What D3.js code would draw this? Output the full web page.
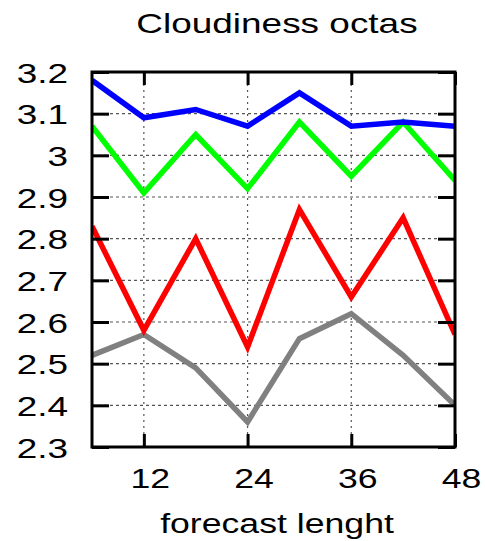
<!DOCTYPE html>
<html>
<head>
<meta charset="utf-8">
<script src="https://cdn.jsdelivr.net/npm/d3@7"></script>
<style>
  body { margin: 0; background: #fff; }
  text { font-family: "Liberation Sans", Arial, sans-serif; fill: #000; }
</style>
</head>
<body>
<svg id="chart" width="485" height="541"></svg>
<script>
// forecast lead times (hours)
const leadTimes = [6, 12, 18, 24, 30, 36, 42, 48]
const blueSeries = [3.18, 3.09, 3.11, 3.07, 3.15, 3.07, 3.08, 3.07]
const greenSeries = [3.07, 2.91, 3.05, 2.92, 3.08, 2.95, 3.08, 2.94]
const redSeries = [2.83, 2.58, 2.80, 2.54, 2.87, 2.66, 2.85, 2.57]
const graySeries = [2.52, 2.57, 2.49, 2.36, 2.56, 2.62, 2.52, 2.40]
const xTicks = [12, 24, 36, 48]
const yTicks = [2.3, 2.4, 2.5, 2.6, 2.7, 2.8, 2.9, 3, 3.1, 3.2]

const series = [
  { values: graySeries, color: '#808080' },
  { values: redSeries, color: '#ff0000' },
  { values: greenSeries, color: '#00ff00' },
  { values: blueSeries, color: '#0000ff' }
]

const svg = d3.select('#chart')
const plotLeft = 92, plotRight = 455, plotTop = 72, plotBottom = 447
// the original's text is stretched sideways
const stretch = 1.32

const xScale = d3.scaleLinear().domain([6, 48]).range([plotLeft, plotRight])
const yScale = d3.scaleLinear().domain([2.3, 3.2]).range([plotBottom, plotTop])

// grid
const grid = svg.append('g')
grid.selectAll('.hgrid')
  .data(yTicks.filter(d => d > 2.3 && d < 3.2))
  .enter().append('line')
  .attr('x1', plotLeft).attr('x2', plotRight)
  .attr('y1', d => yScale(d)).attr('y2', d => yScale(d))
  .attr('stroke', '#555').attr('stroke-width', 1.2)
  .attr('stroke-dasharray', '3,3')
grid.selectAll('.vgrid')
  .data(xTicks.filter(d => d < 48))
  .enter().append('line')
  .attr('x1', d => xScale(d)).attr('x2', d => xScale(d))
  .attr('y1', plotTop).attr('y2', plotBottom)
  .attr('stroke', '#555').attr('stroke-width', 1.2)
  .attr('stroke-dasharray', '2,4')

// lines
const line = d3.line()
  .x((d, i) => xScale(leadTimes[i]))
  .y(d => yScale(d))

const clip = svg.append('clipPath').attr('id', 'plotclip')
clip.append('rect').attr('x', plotLeft).attr('y', plotTop)
  .attr('width', plotRight - plotLeft).attr('height', plotBottom - plotTop)

svg.append('g').attr('clip-path', 'url(#plotclip)')
  .selectAll('path')
  .data(series)
  .enter().append('path')
  .attr('d', d => line(d.values))
  .attr('fill', 'none')
  .attr('stroke', d => d.color)
  .attr('stroke-width', 5.5)
  .attr('stroke-linejoin', 'miter')

// axes with inward ticks
const yTickLen = 17, xTickLen = 13
svg.append('g').attr('transform', `translate(${plotLeft},0)`)
  .call(d3.axisLeft(yScale).tickValues(yTicks).tickSize(-yTickLen).tickFormat(d3.format('')))
  .call(g => g.select('.domain').remove())
  .call(g => g.selectAll('.tick line').attr('stroke-width', 3))
  .call(g => g.selectAll('.tick text').attr('font-size', 28)
    .attr('x', -24 / stretch).attr('dy', '0.36em')
    .attr('transform', `scale(${stretch},1)`))

svg.append('g').attr('transform', `translate(${plotRight},0)`)
  .call(d3.axisRight(yScale).tickValues(yTicks).tickSize(-yTickLen).tickFormat(''))
  .call(g => g.select('.domain').remove())
  .call(g => g.selectAll('.tick line').attr('stroke-width', 3))

svg.append('g').attr('transform', `translate(0,${plotBottom})`)
  .call(d3.axisBottom(xScale).tickValues(xTicks).tickSize(-xTickLen))
  .call(g => g.select('.domain').remove())
  .call(g => g.selectAll('.tick line').attr('stroke-width', 3))
  .call(g => g.selectAll('.tick text').attr('font-size', 27)
    .attr('x', 6 / stretch).attr('y', 41).attr('dy', 0)
    .attr('transform', `scale(${stretch},1)`))

svg.append('g').attr('transform', `translate(0,${plotTop})`)
  .call(d3.axisTop(xScale).tickValues(xTicks).tickSize(-xTickLen).tickFormat(''))
  .call(g => g.select('.domain').remove())
  .call(g => g.selectAll('.tick line').attr('stroke-width', 3))

svg.selectAll('.tick text').attr('fill', '#000').attr('font-family', '"Liberation Sans", Arial, sans-serif')

// frame
svg.append('rect')
  .attr('x', plotLeft).attr('y', plotTop)
  .attr('width', plotRight - plotLeft).attr('height', plotBottom - plotTop)
  .attr('fill', 'none').attr('stroke', '#000').attr('stroke-width', 3)

svg.append('text')
  .attr('transform', `translate(277,33) scale(${stretch},1)`)
  .attr('text-anchor', 'middle')
  .attr('font-size', 28)
  .text('Cloudiness octas')

svg.append('text')
  .attr('transform', `translate(277,533) scale(${stretch},1)`)
  .attr('text-anchor', 'middle')
  .attr('font-size', 27)
  .text('forecast lenght')
</script>
</body>
</html>
